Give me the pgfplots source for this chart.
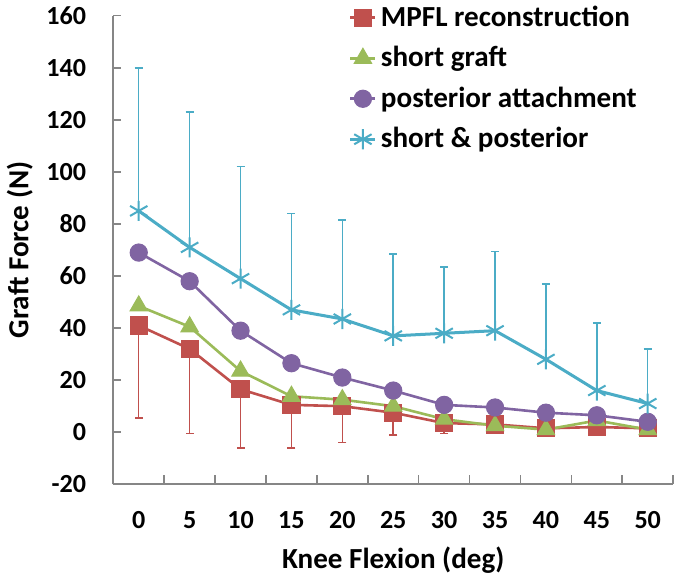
\documentclass[border=0pt]{standalone}
\usepackage{fontspec}
\setmainfont{Carlito}
\usepackage{pgfplots}
\pgfplotsset{compat=1.18}

\definecolor{mpfl}{HTML}{C0504D}
\definecolor{shortg}{HTML}{9BBB59}
\definecolor{postatt}{HTML}{8064A2}
\definecolor{shortpost}{HTML}{4BACC6}
\definecolor{axgray}{HTML}{868686}

% knee flexion (deg), mean graft force (N), SD
\pgfplotstableread{
x   y     e
0   41    35.5
5   32    32.5
10  16.5  22.5
15  10.5  16.5
20  10    14
25  7.5   8.5
30  3.5   4
35  3     0
40  1.5   0
45  2     0
50  1.5   0
}\mpfldata
\pgfplotstableread{
x   y
0   48.5
5   40.5
10  23.5
15  13.8
20  12.5
25  10
30  5
35  2.5
40  1
45  4.5
50  1
}\shortdata
\pgfplotstableread{
x   y
0   69
5   58
10  39
15  26.5
20  21
25  16
30  10.5
35  9.5
40  7.5
45  6.5
50  4
}\postdata
\pgfplotstableread{
x   y     e
0   85    55
5   71    52
10  59    43
15  47    37
20  43.5  38
25  37    31.5
30  38    25.5
35  39    30.5
40  28    29
45  16    26
50  11    21
}\bothdata

\begin{document}
\begin{tikzpicture}
\begin{axis}[
  scale only axis,
  width=279pt, height=233.5pt,
  xmin=-2.5, xmax=52.5,
  ymin=-20, ymax=160,
  xtick={0,5,...,50},
  minor xtick={2.5,7.5,...,52.5},
  ytick={-20,0,...,160},
  major x tick style={draw=none},
  tick align=inside,
  axis x line*=bottom,
  axis y line*=left,
  axis line style={draw=axgray, line width=0.8pt},
  tick style={draw=axgray, line width=0.8pt},
  major tick length=4pt,
  minor tick length=4.5pt,
  /pgf/number format/assume math mode=true,
  ticklabel style={font=\fontsize{13}{15}\selectfont\bfseries},
  yticklabel style={xshift=-10pt},
  xticklabel style={yshift=-10pt},
  label style={font=\fontsize{14.5}{17}\selectfont\bfseries},
  xlabel={Knee Flexion (deg)},
  ylabel={Graft Force (N)},
  xlabel shift=2pt,
  ylabel shift=0pt,
  legend style={at={(0.42,1.03)}, anchor=north west, draw=none, fill=none,
    inner sep=0pt, row sep=4.5pt,
    font=\fontsize{14.5}{17}\selectfont\bfseries},
  legend cell align=left,
  legend image code/.code={%
    \draw[mark repeat=2,mark phase=2] plot coordinates {(0cm,0cm) (0.22cm,0cm) (0.44cm,0cm)};},
  error bars/error bar style={line width=0.75pt},
  error bars/error mark options={rotate=90, mark size=2pt, line width=0.75pt},
]
\addplot[color=mpfl, line width=1.3pt, mark=square*, mark size=4.3pt,
  mark options={fill=mpfl, line width=0.5pt},
  error bars/.cd, y dir=minus, y explicit]
  table[x=x, y=y, y error=e] {\mpfldata};
\addlegendentry{MPFL reconstruction}
\addplot[color=shortg, line width=1.3pt, mark=triangle*, mark size=5pt,
  mark options={fill=shortg, line width=0.5pt}]
  table[x=x, y=y] {\shortdata};
\addlegendentry{short graft}
\addplot[color=postatt, line width=1.3pt, mark=*, mark size=4.3pt,
  mark options={fill=postatt, line width=0.5pt}]
  table[x=x, y=y] {\postdata};
\addlegendentry{posterior attachment}
\addplot[color=shortpost, line width=1.5pt, mark=asterisk, mark size=5pt,
  mark options={line width=1pt},
  error bars/.cd, y dir=plus, y explicit]
  table[x=x, y=y, y error=e] {\bothdata};
\addlegendentry{short \& posterior}
\end{axis}
\end{tikzpicture}
\end{document}
